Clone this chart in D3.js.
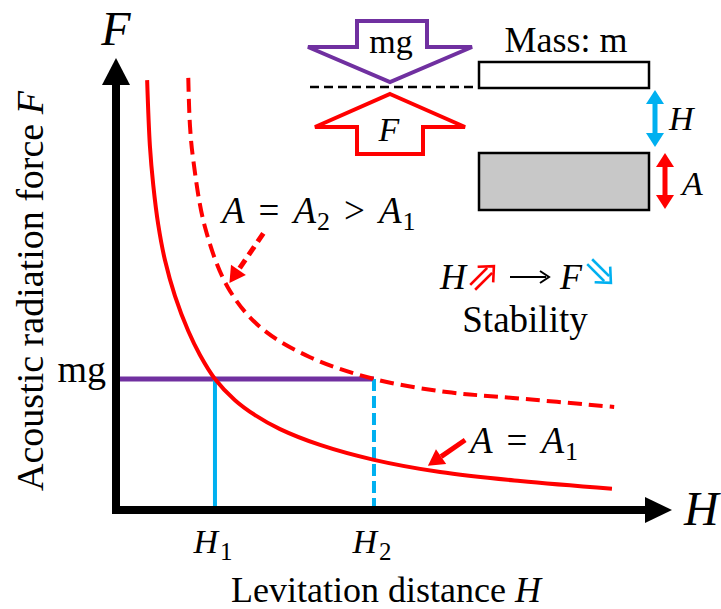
<!DOCTYPE html>
<html>
<head>
<meta charset="utf-8">
<script src="https://cdn.jsdelivr.net/npm/d3@7"></script>
<style>
  body { margin: 0; background: #fff; }
  svg { display: block; }
</style>
</head>
<body>
<svg id="chart" width="721" height="609"></svg>
<script>
// Force–distance curves for two excitation amplitudes (axis units 0–10)
const curveA1H = [0.56, 0.61, 0.67, 0.76, 0.88, 1.06, 1.30, 1.51, 1.78, 2.14, 2.50, 2.95, 3.67, 4.64, 5.83, 7.27, 8.92];
const curveA1F = [9.51, 8.05, 7.19, 6.31, 5.53, 4.74, 3.96, 3.43, 2.90, 2.43, 2.10, 1.79, 1.44, 1.11, 0.84, 0.64, 0.47];
const curveA2H = [1.30, 1.33, 1.39, 1.60, 2.01, 2.59, 3.49, 4.64, 5.95, 7.14, 8.96];
const curveA2F = [9.56, 8.51, 7.74, 6.26, 4.93, 4.05, 3.38, 2.90, 2.61, 2.48, 2.28];
const weightF = 2.90;                 // mg
const equilibriumH = [1.78, 4.64];    // H1, H2
const equilibriumSub = ["1", "2"];

const RED = "#FF0000", BLUE = "#00B0F0", PURPLE = "#7030A0";
const SERIF = "'Liberation Serif', 'Times New Roman', serif";

const svg = d3.select("#chart");
const x = d3.scaleLinear().domain([0, 10]).range([116, 672]);
const y = d3.scaleLinear().domain([0, 10]).range([510, 58]);

const toPts = (hs, fs) => hs.map((h, i) => [h, fs[i]]);
const line = d3.line().x(d => x(d[0])).y(d => y(d[1])).curve(d3.curveCatmullRom.alpha(0.5));

// --- mg level and equilibrium distances
svg.append("line")
  .attr("x1", x(0)).attr("x2", x(equilibriumH[1]))
  .attr("y1", y(weightF)).attr("y2", y(weightF))
  .attr("stroke", PURPLE).attr("stroke-width", 5);

equilibriumH.forEach((h, i) => {
  svg.append("line")
    .attr("x1", x(h)).attr("x2", x(h))
    .attr("y1", y(weightF)).attr("y2", y(0))
    .attr("stroke", BLUE).attr("stroke-width", 4)
    .attr("stroke-dasharray", i === 1 ? "12,5" : null);
});

// --- curves
svg.append("path").datum(toPts(curveA1H, curveA1F))
  .attr("d", line).attr("fill", "none")
  .attr("stroke", RED).attr("stroke-width", 4);
svg.append("path").datum(toPts(curveA2H, curveA2F))
  .attr("d", line).attr("fill", "none")
  .attr("stroke", RED).attr("stroke-width", 4)
  .attr("stroke-dasharray", "14,7");

// --- axes
svg.append("line").attr("x1", x(0)).attr("x2", x(0))
  .attr("y1", y(0) + 4).attr("y2", y(10) + 20)
  .attr("stroke", "#000").attr("stroke-width", 8);
svg.append("path")
  .attr("d", `M${x(0)},${y(10)} L${x(0) + 14},${y(10) + 27} L${x(0) - 14},${y(10) + 27} Z`)
  .attr("fill", "#000");
svg.append("line").attr("x1", x(0) - 4).attr("x2", x(10) - 20)
  .attr("y1", y(0)).attr("y2", y(0))
  .attr("stroke", "#000").attr("stroke-width", 8);
svg.append("path")
  .attr("d", `M${x(10)},${y(0)} L${x(10) - 27},${y(0) - 13} L${x(10) - 27},${y(0) + 13} Z`)
  .attr("fill", "#000");

// axis end symbols
svg.append("text").attr("x", x(0)).attr("y", 45)
  .attr("text-anchor", "middle").attr("font-family", SERIF)
  .attr("font-style", "italic").attr("font-size", 48).text("F");
svg.append("text").attr("x", 684).attr("y", 525)
  .attr("font-family", SERIF).attr("font-style", "italic")
  .attr("font-size", 48).text("H");

// mg tick label
svg.append("text").attr("x", 106).attr("y", y(weightF) + 3)
  .attr("text-anchor", "end").attr("font-family", SERIF)
  .attr("font-size", 38).text("mg");

// H1 / H2 tick labels
equilibriumH.forEach((h, i) => {
  const t = svg.append("text").attr("x", x(h) - 2).attr("y", 553)
    .attr("text-anchor", "middle").attr("font-family", SERIF).attr("font-size", 34);
  t.append("tspan").attr("font-style", "italic").text("H");
  t.append("tspan").attr("dx", 2).attr("dy", 7).attr("font-size", 25).text(equilibriumSub[i]);
});

// axis titles
const xt = svg.append("text").attr("x", 386).attr("y", 602)
  .attr("text-anchor", "middle").attr("font-family", SERIF).attr("font-size", 36);
xt.append("tspan").text("Levitation distance ");
xt.append("tspan").attr("font-style", "italic").text("H");

const yt = svg.append("text")
  .attr("transform", "translate(43,291) rotate(-90)")
  .attr("text-anchor", "middle").attr("font-family", SERIF).attr("font-size", 38);
yt.append("tspan").text("Acoustic radiation force ");
yt.append("tspan").attr("font-style", "italic").text("F");

// --- curve annotations
function arrowTo(x1, y1, x2, y2, dashed) {
  const ang = Math.atan2(y2 - y1, x2 - x1);
  const L = 16, W = 9;
  const bx = x2 - L * Math.cos(ang), by = y2 - L * Math.sin(ang);
  svg.append("line").attr("x1", x1).attr("y1", y1).attr("x2", bx).attr("y2", by)
    .attr("stroke", RED).attr("stroke-width", 5)
    .attr("stroke-dasharray", dashed ? "10,6" : null);
  const px = -Math.sin(ang) * W, py = Math.cos(ang) * W;
  svg.append("path")
    .attr("d", `M${x2},${y2} L${bx + px},${by + py} L${bx - px},${by - py} Z`)
    .attr("fill", RED);
}

function mathLabel(x0, y0, parts) {
  const t = svg.append("text").attr("x", x0).attr("y", y0)
    .attr("font-family", SERIF).attr("font-size", 37);
  parts.forEach(p => {
    const s = t.append("tspan").text(p.t);
    if (p.i) s.attr("font-style", "italic");
    if (p.dx) s.attr("dx", p.dx);
    if (p.sub) s.attr("font-size", 26).attr("dy", 7);
    if (p.up) s.attr("dy", -7);
  });
}

mathLabel(222, 223, [
  { t: "A", i: true }, { t: "=", dx: 14 }, { t: "A", i: true, dx: 14 },
  { t: "2", sub: true, dx: 1 }, { t: ">", dx: 14, up: true }, { t: "A", i: true, dx: 14 },
  { t: "1", sub: true, dx: 1 }
]);
arrowTo(x(2.65), y(6.12), x(2.04), y(5.02), true);

mathLabel(470, 453, [
  { t: "A", i: true }, { t: "=", dx: 14 }, { t: "A", i: true, dx: 14 },
  { t: "1", sub: true, dx: 1 }
]);
arrowTo(x(6.28), y(1.55), x(5.61), y(0.98), false);

// --- stability note: H⇗ → F⇘
function doubleArrow(cx, cy, rot, color) {
  const g = svg.append("g").attr("transform", `translate(${cx},${cy}) rotate(${rot})`)
    .attr("stroke", color).attr("stroke-width", 2.6).attr("fill", "none");
  g.append("line").attr("x1", -16).attr("y1", -3.5).attr("x2", 8).attr("y2", -3.5);
  g.append("line").attr("x1", -16).attr("y1", 3.5).attr("x2", 8).attr("y2", 3.5);
  g.append("path").attr("d", "M2,-11 L14,0 L2,11");
}
svg.append("text").attr("x", 440).attr("y", 289)
  .attr("font-family", SERIF).attr("font-style", "italic").attr("font-size", 36).text("H");
doubleArrow(484, 276, -45, RED);
svg.append("line").attr("x1", 510).attr("x2", 546).attr("y1", 277).attr("y2", 277)
  .attr("stroke", "#000").attr("stroke-width", 2);
svg.append("path").attr("d", "M540,271 L549,277 L540,283")
  .attr("fill", "none").attr("stroke", "#000").attr("stroke-width", 2);
svg.append("text").attr("x", 560).attr("y", 289)
  .attr("font-family", SERIF).attr("font-style", "italic").attr("font-size", 36).text("F");
doubleArrow(601, 273, 45, BLUE);
svg.append("text").attr("x", 525).attr("y", 332).attr("text-anchor", "middle")
  .attr("font-family", SERIF).attr("font-size", 37).text("Stability");

// --- levitation sketch: forces on the mass above the transducer
const sketch = svg.append("g");
sketch.append("path")
  .attr("d", "M357,21 L427,21 L427,47 L472,47 L390,82 L308,47 L357,47 Z")
  .attr("fill", "#fff").attr("stroke", PURPLE).attr("stroke-width", 4).attr("stroke-linejoin", "miter");
sketch.append("text").attr("x", 391).attr("y", 53).attr("text-anchor", "middle")
  .attr("font-family", SERIF).attr("font-size", 34).text("mg");

sketch.append("line").attr("x1", 310).attr("x2", 479).attr("y1", 87).attr("y2", 87)
  .attr("stroke", "#000").attr("stroke-width", 2.5).attr("stroke-dasharray", "9,5");

sketch.append("path")
  .attr("d", "M390,94 L465,127 L423,127 L423,154 L357,154 L357,127 L315,127 Z")
  .attr("fill", "#fff").attr("stroke", RED).attr("stroke-width", 4);
sketch.append("text").attr("x", 389).attr("y", 141).attr("text-anchor", "middle")
  .attr("font-family", SERIF).attr("font-style", "italic").attr("font-size", 34).text("F");

sketch.append("text").attr("x", 566).attr("y", 52).attr("text-anchor", "middle")
  .attr("font-family", SERIF).attr("font-size", 36).text("Mass: m");
sketch.append("rect").attr("x", 479).attr("y", 62).attr("width", 170).attr("height", 26)
  .attr("fill", "#fff").attr("stroke", "#000").attr("stroke-width", 2.5);
sketch.append("rect").attr("x", 479).attr("y", 153).attr("width", 170).attr("height", 57)
  .attr("fill", "#C8C8C8").attr("stroke", "#000").attr("stroke-width", 2.5);

function vDoubleArrow(cx, y1, y2, color) {
  const h = 14, w = 9;
  sketch.append("line").attr("x1", cx).attr("x2", cx).attr("y1", y1 + h - 1).attr("y2", y2 - h + 1)
    .attr("stroke", color).attr("stroke-width", 5);
  sketch.append("path").attr("d", `M${cx},${y1} L${cx + w},${y1 + h} L${cx - w},${y1 + h} Z`).attr("fill", color);
  sketch.append("path").attr("d", `M${cx},${y2} L${cx + w},${y2 - h} L${cx - w},${y2 - h} Z`).attr("fill", color);
}
vDoubleArrow(655, 90, 147, BLUE);
vDoubleArrow(665, 153, 209, RED);
sketch.append("text").attr("x", 669).attr("y", 130)
  .attr("font-family", SERIF).attr("font-style", "italic").attr("font-size", 34).text("H");
sketch.append("text").attr("x", 682).attr("y", 195)
  .attr("font-family", SERIF).attr("font-style", "italic").attr("font-size", 34).text("A");
</script>
</body>
</html>
